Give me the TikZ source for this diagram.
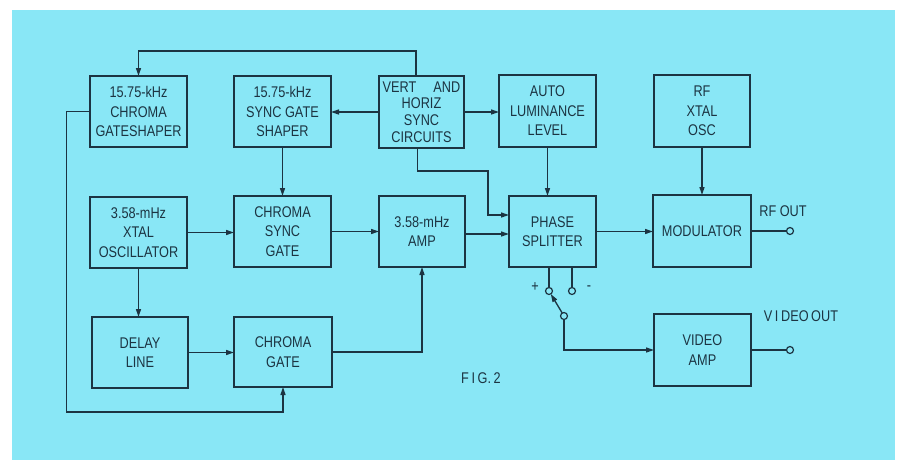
\documentclass[tikz,border=0pt]{standalone}
\usepackage{fontspec}
\setmainfont{Liberation Sans}[FakeStretch=0.82]
\usetikzlibrary{arrows.meta,calc}
\definecolor{bg}{RGB}{137,231,246}
\definecolor{ink}{RGB}{28,52,66}
\begin{document}
\begin{tikzpicture}[x=1pt,y=-1pt,
 blk/.style={draw=ink, line width=1.8pt, inner sep=0pt, outer sep=0pt, align=center, text=ink, font=\fontsize{15.5}{19.5}\selectfont},
 wire/.style={draw=ink, line width=1.3pt},
 arr/.style={wire, -{Triangle[length=8pt,width=5pt]}},
 term/.style={circle, draw=ink, line width=1.2pt, minimum size=7pt, inner sep=0pt, outer sep=0pt},
 lbl/.style={text=ink, font=\fontsize{15.5}{17}\selectfont, inner sep=0pt}]
\useasboundingbox (0,0) rectangle (898,464);
\fill[white] (0,0) rectangle (898,464);
\fill[bg] (12,10) rectangle (895,460);

% blocks
\node[blk, minimum width=97pt, minimum height=71pt] (cgs) at (138.5,111.5) {15.75-kHz\\CHROMA\\GATESHAPER};
\node[blk, minimum width=97pt, minimum height=71pt] (sgs) at (282.5,111.5) {15.75-kHz\\SYNC GATE\\SHAPER};
\node[blk, minimum width=85pt, minimum height=72pt, font=\fontsize{15.5}{16.8}\selectfont] (vh) at (421.5,112) {VERT\hspace{1.1em}AND\\HORIZ\\SYNC\\CIRCUITS};
\node[blk, minimum width=97pt, minimum height=72pt] (alum) at (547.5,111) {AUTO\\LUMINANCE\\LEVEL};
\node[blk, minimum width=96pt, minimum height=72pt] (rfo) at (702,111) {RF\\XTAL\\OSC};
\node[blk, minimum width=97pt, minimum height=71pt] (xo) at (138.5,232.5) {3.58-mHz\\XTAL\\OSCILLATOR};
\node[blk, minimum width=97pt, minimum height=71pt] (csg) at (282.5,231.5) {CHROMA\\SYNC\\GATE};
\node[blk, minimum width=86pt, minimum height=71pt] (amp) at (422,231.5) {3.58-mHz\\AMP};
\node[blk, minimum width=87pt, minimum height=71pt] (ps) at (552.5,231.5) {PHASE\\SPLITTER};
\node[blk, minimum width=98pt, minimum height=72pt] (mod) at (702,231) {MODULATOR};
\node[blk, minimum width=96pt, minimum height=71pt] (dl) at (140,352.5) {DELAY\\LINE};
\node[blk, minimum width=98pt, minimum height=70pt] (cg) at (283,352) {CHROMA\\GATE};
\node[blk, minimum width=97pt, minimum height=72pt] (va) at (702.5,350) {VIDEO\\AMP};

% terminals
\node[term] (rfc) at (790,231) {};
\node[term] (vac) at (790,350) {};
\node[term] (pc) at (549,291) {};
\node[term] (mc) at (572,291) {};
\node[term] (sw) at (564,316) {};

% labels
\node[lbl] (rfl) at (783,211) {RF OUT};
\node[lbl] (val) at (801,316) {V\,I\,DEO\,OUT};
\node[lbl] (plus) at (535,287) {+};
\node[lbl] (minus) at (589,288) {-};
\node[lbl] (fig) at (481,378) {F\,I\,G.\,2};

% connectors
\draw[arr] ([xshift=-5.5pt]vh.north) -- ++(0,-25) -| (cgs.north);
\draw[arr] (vh.west) -- (vh.west -| sgs.east);
\draw[arr] (vh.east) -- (vh.east -| alum.west);
\draw[arr] ([xshift=-4pt]vh.south) |- (488,171) |- ([yshift=16.5pt]ps.west);
\draw[arr] (alum.south) -- (alum.south |- ps.north);
\draw[arr] (rfo.south) -- (rfo.south |- mod.north);
\draw[arr] (sgs.south) -- (sgs.south |- csg.north);
\draw[arr] (cgs.west) -| (66.5,412) -| (cg.south);
\draw[arr] (xo.east) -- (xo.east -| csg.west);
\draw[arr] (xo.south) -- (xo.south |- dl.north);
\draw[arr] (dl.east) -- (dl.east -| cg.west);
\draw[arr] (csg.east) -- (csg.east -| amp.west);
\draw[arr] ([yshift=-2.5pt]amp.east) -- ([yshift=-2.5pt]amp.east -| ps.west);
\draw[arr] (cg.east) -| (amp.south);
\draw[arr] (ps.east) -- (ps.east -| mod.west);
\draw[wire] (mod.east) -- (rfc.west);
\draw[wire] (va.east) -- (vac.west);
\draw[wire] (ps.south -| pc.north) -- (pc.north);
\draw[wire] (ps.south -| mc.north) -- (mc.north);
\draw[arr] (sw) -- (pc);
\draw[arr] (sw.south) |- (va.west);
\end{tikzpicture}
\end{document}
